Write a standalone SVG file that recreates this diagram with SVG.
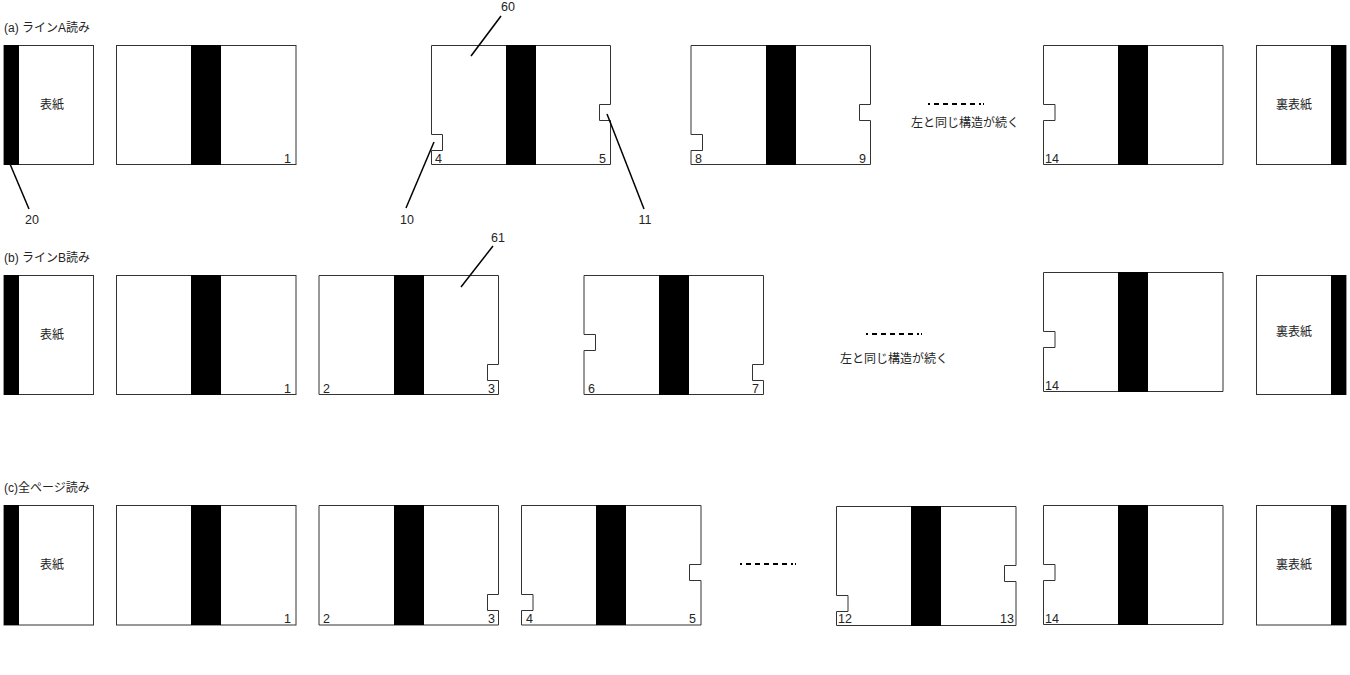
<svg xmlns="http://www.w3.org/2000/svg" width="1350" height="675" viewBox="0 0 1350 675">
<style>
text{font-family:"Liberation Sans","Noto Sans CJK JP",sans-serif;font-size:12px;fill:#222;opacity:.99}
.m{text-anchor:middle}
.e{text-anchor:end}
.n{font-size:12.5px}
.p{fill:#fff;stroke:#333;stroke-width:1}
.b{fill:#000}
.l{stroke:#000;stroke-width:1.5;fill:none}
.d{stroke:#000;stroke-width:2;fill:none;stroke-dasharray:2 4 5 4 5 4 5 4 5 4 5 4 2}
</style>
<rect width="1350" height="675" fill="#fff"/>
<text x="4" y="32">(a) ラインA読み</text>
<text x="4" y="262">(b) ラインB読み</text>
<text x="4" y="492">(c)全ページ読み</text>

<g id="a-cover"><rect class="p" x="4" y="45.5" width="89.5" height="119"/><rect class="b" x="4" y="45" width="15" height="120"/><text class="m" x="52" y="108.500">表紙</text></g>
<g id="a-spread-1"><rect class="p" x="116.5" y="45.5" width="179.500" height="119"/><rect class="b" x="191" y="45" width="30" height="120"/><text class="e n" x="291" y="162.500">1</text></g>
<g id="a-spread-4"><path class="p" d="M431.500 45.500H610.500V104.500H599.500V120.500H610.500V164.500H431.500V150.500H442.500V134.500H431.500Z"/><rect class="b" x="506" y="45" width="30" height="120"/><text class="n" x="435" y="162.500">4</text><text class="e n" x="606" y="162.500">5</text></g>
<g id="a-spread-8"><path class="p" d="M691 45.500H870.500V104.500H859.500V120.500H870.500V164.500H691V150.500H702.500V134.500H691Z"/><rect class="b" x="766" y="45" width="30" height="120"/><text class="n" x="695" y="162.500">8</text><text class="e n" x="866" y="162.500">9</text></g>
<g id="a-continue"><line class="d" x1="928" y1="104" x2="984" y2="104"/><text class="m" x="965" y="127">左と同じ構造が続く</text></g>
<g id="a-spread-14"><path class="p" d="M1043.500 45.500H1223V164.500H1043.500V120.500H1055V104.500H1043.500Z"/><rect class="b" x="1118" y="45" width="30" height="120"/><text class="n" x="1045" y="162.500">14</text></g>
<g id="a-back"><rect class="p" x="1256.500" y="45.500" width="89.500" height="119"/><rect class="b" x="1331" y="45" width="15" height="120"/><text class="m" x="1294" y="108.500">裏表紙</text></g>

<g id="b-cover"><rect class="p" x="4" y="275.500" width="89.500" height="119"/><rect class="b" x="4" y="275" width="15" height="120"/><text class="m" x="52" y="338.500">表紙</text></g>
<g id="b-spread-1"><rect class="p" x="116.500" y="275.500" width="179.500" height="119"/><rect class="b" x="191" y="275" width="30" height="120"/><text class="e n" x="291" y="392.500">1</text></g>
<g id="b-spread-2"><path class="p" d="M319 275.500H498.500V364.500H487.500V380.500H498.500V394.500H319Z"/><rect class="b" x="394" y="275" width="30" height="120"/><text class="n" x="323" y="392.500">2</text><text class="e n" x="495" y="392.500">3</text></g>
<g id="b-spread-6"><path class="p" d="M584 275.500H763.500V364.500H752.500V380.500H763.500V394.500H584V350.500H595.500V334.500H584Z"/><rect class="b" x="659" y="275" width="30" height="120"/><text class="n" x="588" y="392.500">6</text><text class="e n" x="759" y="392.500">7</text></g>
<g id="b-continue"><line class="d" x1="866" y1="334" x2="922" y2="334"/><text class="m" x="894" y="363">左と同じ構造が続く</text></g>
<g id="b-spread-14"><path class="p" d="M1043.500 272.500H1223V391.500H1043.500V347.500H1055V331.500H1043.500Z"/><rect class="b" x="1118" y="272" width="30" height="120"/><text class="n" x="1045" y="389.500">14</text></g>
<g id="b-back"><rect class="p" x="1256.500" y="275.500" width="89.500" height="119"/><rect class="b" x="1331" y="275" width="15" height="120"/><text class="m" x="1294" y="335.500">裏表紙</text></g>

<g id="c-cover"><rect class="p" x="4" y="505.500" width="89.500" height="119.500"/><rect class="b" x="4" y="505" width="15" height="120"/><text class="m" x="52" y="568.500">表紙</text></g>
<g id="c-spread-1"><rect class="p" x="116.500" y="505.500" width="179.500" height="119.500"/><rect class="b" x="191" y="505" width="30" height="120"/><text class="e n" x="291" y="622.500">1</text></g>
<g id="c-spread-2"><path class="p" d="M319 505.500H498.500V594.500H487.500V610.500H498.500V625H319Z"/><rect class="b" x="394" y="505" width="30" height="120"/><text class="n" x="323" y="622.500">2</text><text class="e n" x="495" y="622.500">3</text></g>
<g id="c-spread-4"><path class="p" d="M521.500 505.500H701V564.500H689.500V580.500H701V625H521.500V610.500H533V594.500H521.500Z"/><rect class="b" x="596" y="505" width="30" height="120"/><text class="n" x="526" y="622.500">4</text><text class="e n" x="696" y="622.500">5</text></g>
<g id="c-continue"><line class="d" x1="740" y1="564" x2="796" y2="564"/></g>
<g id="c-spread-12"><path class="p" d="M836.500 506.500H1016V565.500H1004.500V581.500H1016V625.500H836.500V611.500H848V595.500H836.500Z"/><rect class="b" x="911" y="506" width="30" height="120"/><text class="n" x="838" y="622.500">12</text><text class="e n" x="1014" y="622.500">13</text></g>
<g id="c-spread-14"><path class="p" d="M1043.500 505.500H1223V624.500H1043.500V580.500H1055V564.500H1043.500Z"/><rect class="b" x="1118" y="505" width="30" height="120"/><text class="n" x="1045" y="622.500">14</text></g>
<g id="c-back"><rect class="p" x="1256.500" y="505.500" width="89.500" height="119.500"/><rect class="b" x="1331" y="505" width="15" height="120"/><text class="m" x="1294" y="568.500">裏表紙</text></g>

<g id="connectors">
<line class="l" x1="10" y1="164" x2="29" y2="209"/>
<line class="l" x1="406" y1="208" x2="434" y2="142"/>
<line class="l" x1="471" y1="56" x2="501" y2="16"/>
<line class="l" x1="607" y1="114" x2="644" y2="209"/>
<line class="l" x1="461" y1="287" x2="493" y2="246"/>
</g>
<g id="labels">
<text class="m n" x="32" y="224">20</text>
<text class="m n" x="407" y="224">10</text>
<text class="m n" x="508" y="11">60</text>
<text class="m n" x="645" y="224">11</text>
<text class="m n" x="498" y="242">61</text>
</g>
</svg>
